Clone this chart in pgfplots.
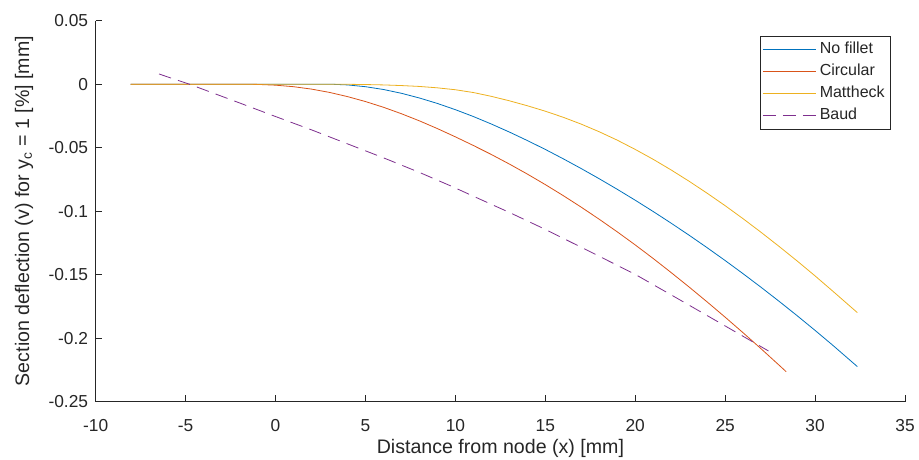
\documentclass[border=0pt]{standalone}
\usepackage{fontspec}
\setmainfont{Liberation Sans}
\usepackage{pgfplots}
\pgfplotsset{compat=1.18}
\definecolor{mblue}{rgb}{0,0.447,0.741}
\definecolor{morange}{rgb}{0.85,0.325,0.098}
\definecolor{myellow}{rgb}{0.929,0.694,0.125}
\definecolor{mpurple}{rgb}{0.494,0.184,0.556}
\definecolor{axgray}{rgb}{0.15,0.15,0.15}
\begin{document}
\begin{tikzpicture}
\useasboundingbox (-71.8pt,-43.7pt) rectangle (617.5pt,301.25pt);
\begin{axis}[
  at={(0pt,0pt)}, anchor=south west,
  scale only axis, width=607pt, height=285.75pt,
  xmin=-10, xmax=35, ymin=-0.25, ymax=0.05,
  axis lines*=left,
  axis line style={axgray, line width=0.5pt, -},
  tick align=inside, major tick length=5pt,
  tick style={axgray, line width=0.5pt},
  xtick={-10,-5,0,5,10,15,20,25,30,35},
  xticklabels={-10,-5,0,5,10,15,20,25,30,35},
  ytick={-0.25,-0.2,-0.15,-0.1,-0.05,0,0.05},
  yticklabels={-0.25,-0.2,-0.15,-0.1,-0.05,0,0.05},
  ticklabel style={font=\fontsize{13}{15}\selectfont, text=axgray},
  xticklabel style={yshift=-10pt},
  yticklabel style={xshift=-2.2pt},
  xlabel={Distance from node (x) [mm]},
  xlabel style={at={(axis description cs:0.5,-0.1354)}, anchor=base,
    font=\fontsize{14.7}{17}\selectfont, text=axgray},
  ylabel={Section deflection (v) for y\textsubscript{c} = 1 [\%] [mm]},
  ylabel style={at={(axis description cs:-0.0824,0.5)}, anchor=base,
    font=\fontsize{14.7}{17}\selectfont, text=axgray},
  legend style={at={(0.9818,0.9598)}, anchor=north east, draw=axgray,
    line width=0.5pt, fill=white, inner xsep=1.7pt, inner ysep=1.9pt,
    font=\fontsize{12}{14}\selectfont,
    nodes={text height=9pt, text depth=3pt, inner sep=2.25pt}},
  legend cell align=left,
]
\addplot[color=mblue, draw=mblue, line width=0.6pt,
  legend image code/.code={\color{mblue}\draw[draw=mblue, line width=0.75pt] (0pt,0pt) -- (40pt,0pt);}] coordinates {
(-8.06,0) (-4,0) (0,0) (2,0) (3,0) (4,-0.0006) (5,-0.0020) (6,-0.0042)
(7,-0.0072) (8,-0.0109) (9,-0.0152) (10,-0.0201) (11,-0.0255) (12,-0.0314)
(13,-0.0377) (14,-0.0444) (15,-0.0514) (16,-0.0588) (17,-0.0665) (18,-0.0745)
(19,-0.0828) (20,-0.0914) (21,-0.1003) (22,-0.1095) (23,-0.1190) (24,-0.1288)
(25,-0.1389) (26,-0.1493) (27,-0.1600) (28,-0.1710) (29,-0.1823) (30,-0.1939)
(31,-0.2058) (32,-0.2181) (32.35,-0.2224)};
\addlegendentry{\textcolor{axgray}{No fillet}}
\addplot[color=morange, draw=morange, line width=0.6pt,
  legend image code/.code={\color{morange}\draw[draw=morange, line width=0.75pt] (0pt,0pt) -- (40pt,0pt);}] coordinates {
(-8.06,0) (-3,0) (-2,0) (-1,-0.0002) (0,-0.0008) (1,-0.0020) (2,-0.0039)
(3,-0.0065) (4,-0.0098) (5,-0.0137) (6,-0.0182) (7,-0.0233) (8,-0.0289)
(9,-0.0350) (10,-0.0415) (11,-0.0483) (12,-0.0554) (13,-0.0629) (14,-0.0708)
(15,-0.0791) (16,-0.0878) (17,-0.0969) (18,-0.1064) (19,-0.1163) (20,-0.1266)
(21,-0.1373) (22,-0.1484) (23,-0.1598) (24,-0.1715) (25,-0.1835) (26,-0.1958)
(27,-0.2084) (28,-0.2213) (28.39,-0.2264)};
\addlegendentry{\textcolor{axgray}{Circular}}
\addplot[color=myellow, draw=myellow, line width=0.6pt,
  legend image code/.code={\color{myellow}\draw[draw=myellow, line width=0.75pt] (0pt,0pt) -- (40pt,0pt);}] coordinates {
(-8.06,0) (0,0) (3,0) (4,-0.0001) (5,-0.0003) (6,-0.0006) (7,-0.0011)
(8,-0.0018) (9,-0.0029) (10,-0.0044) (11,-0.0066) (12,-0.0096) (13,-0.0131)
(14,-0.0170) (15,-0.0213) (16,-0.0261) (17,-0.0315) (18,-0.0375) (19,-0.0441)
(20,-0.0514) (21,-0.0592) (22,-0.0676) (23,-0.0765) (24,-0.0859) (25,-0.0957)
(26,-0.1060) (27,-0.1167) (28,-0.1278) (29,-0.1392) (30,-0.1510) (31,-0.1632)
(32.35,-0.1799)};
\addlegendentry{\textcolor{axgray}{Mattheck}}
\addplot[color=mpurple, draw=mpurple, line width=0.6pt, dash pattern=on 9.5pt off 5.5pt,
  legend image code/.code={\color{mpurple}\draw[draw=mpurple, line width=0.75pt, dash pattern=on 9.5pt off 5.5pt] (0pt,0pt) -- (40pt,0pt);}] coordinates {
(-6.48,0.008) (-4.8,0) (-2,-0.0148) (0,-0.0255) (2,-0.036) (4,-0.047)
(6,-0.058) (8,-0.0695) (9.72,-0.080) (11.37,-0.0906) (13,-0.101)
(14.99,-0.1143) (17.5,-0.132) (19.99,-0.1497) (22.5,-0.170) (25,-0.1904)
(27.41,-0.2101)};
\addlegendentry{\textcolor{axgray}{Baud}}
\end{axis}
\end{tikzpicture}
\end{document}
